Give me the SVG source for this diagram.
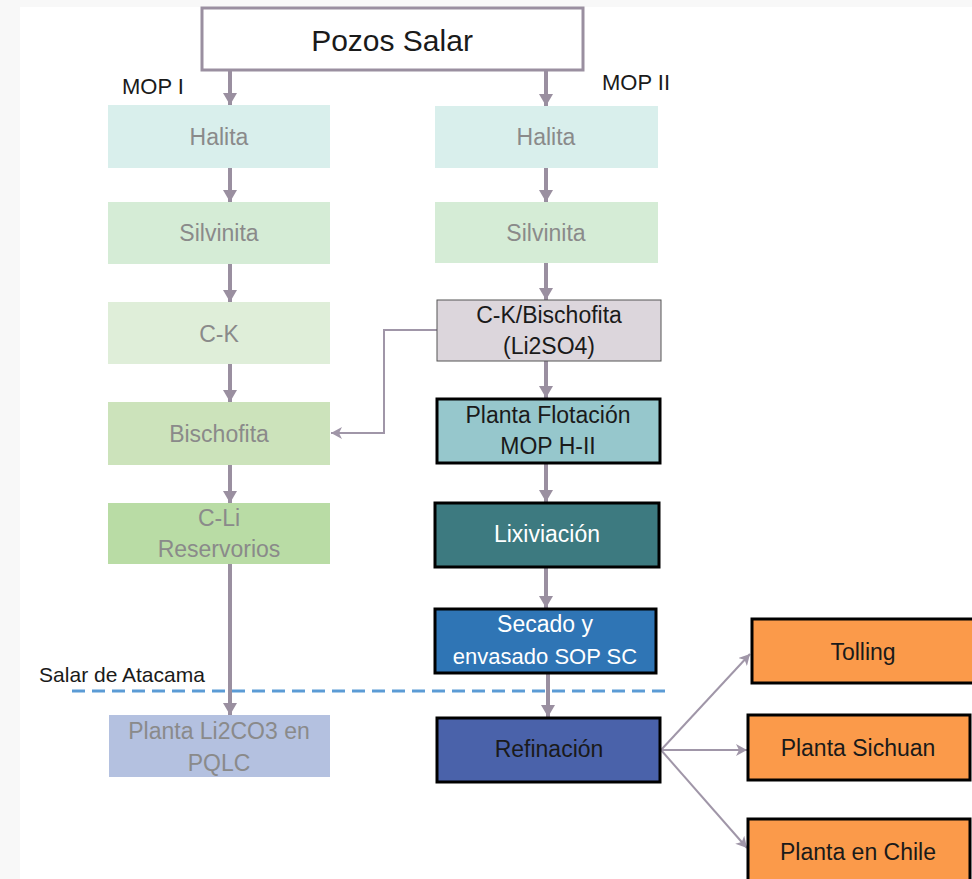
<svg xmlns="http://www.w3.org/2000/svg" width="972" height="879" viewBox="0 0 972 879">
<defs>
<marker id="ah" markerUnits="userSpaceOnUse" markerWidth="16" markerHeight="14" refX="12" refY="7" orient="auto">
<path d="M0,0 L12,7 L0,14 Z" fill="#9a8fa0"/>
</marker>
<marker id="ahs" markerUnits="userSpaceOnUse" markerWidth="14" markerHeight="12" refX="11" refY="6" orient="auto">
<path d="M0,0 L11,6 L0,12 L3,6 Z" fill="#a096a8"/>
</marker>
<style>
text{font-family:"Liberation Sans",Arial,sans-serif;text-anchor:middle;dominant-baseline:central;font-size:23px}
.g{fill:#8a8a8a}
.k{fill:#1a1a1a}
.w{fill:#ffffff}
.dk{stroke:#000;stroke-width:3}
.c{stroke:#9a8fa0;stroke-width:4;fill:none;marker-end:url(#ah)}
.t{stroke:#a096a8;stroke-width:2;fill:none;marker-end:url(#ahs)}
</style>
</defs>
<rect x="0" y="0" width="972" height="879" fill="#f8f8f8"/>
<rect x="20" y="7" width="952" height="872" fill="#ffffff"/>

<g id="connectors">
<line class="c" x1="230" y1="70" x2="230" y2="105"/>
<line class="c" x1="546" y1="70" x2="546" y2="106"/>
<line class="c" x1="230" y1="168" x2="230" y2="202"/>
<line class="c" x1="230" y1="264" x2="230" y2="302"/>
<line class="c" x1="230" y1="364" x2="230" y2="402"/>
<line class="c" x1="230" y1="465" x2="230" y2="503"/>
<line class="c" x1="230" y1="564" x2="230" y2="715"/>
<line class="c" x1="546" y1="168" x2="546" y2="202"/>
<line class="c" x1="546" y1="263" x2="546" y2="300"/>
<line class="c" x1="546" y1="361" x2="546" y2="398"/>
<line class="c" x1="546" y1="463" x2="546" y2="502"/>
<line class="c" x1="546" y1="567" x2="546" y2="608"/>
<line class="c" x1="548" y1="673" x2="548" y2="717"/>
<polyline class="t" points="437,330 384,330 384,433 331,433"/>
<line class="t" x1="661" y1="750" x2="750" y2="654"/>
<line class="t" x1="661" y1="750" x2="747" y2="750"/>
<line class="t" x1="661" y1="750" x2="747" y2="848"/>
</g>

<g id="boundary">
<line x1="72" y1="691" x2="670" y2="691" stroke="#5b9bd5" stroke-width="3" stroke-dasharray="13,7"/>
<text x="122" y="674" class="k" style="font-size:21px">Salar de Atacama</text>
</g>

<g id="pozos-salar">
<rect x="202" y="8" width="381" height="62" fill="#ffffff" stroke="#9a8fa0" stroke-width="3"/>
<text x="392" y="40" class="k" style="font-size:30px">Pozos Salar</text>
</g>
<g id="label-mop1"><text x="153" y="86" class="k" style="font-size:22px">MOP I</text></g>
<g id="label-mop2"><text x="636" y="82" class="k" style="font-size:22px">MOP II</text></g>

<g id="halita-1">
<rect x="108" y="105" width="222" height="63" fill="#d9efec"/>
<text x="219" y="137" class="g">Halita</text>
</g>
<g id="silvinita-1">
<rect x="108" y="202" width="222" height="62" fill="#d5ecd6"/>
<text x="219" y="233" class="g">Silvinita</text>
</g>
<g id="ck-1">
<rect x="108" y="302" width="222" height="62" fill="#dfeed9"/>
<text x="219" y="334" class="g">C-K</text>
</g>
<g id="bischofita-1">
<rect x="108" y="402" width="222" height="63" fill="#cce3bb"/>
<text x="219" y="434" class="g">Bischofita</text>
</g>
<g id="cli-1">
<rect x="108" y="503" width="222" height="61" fill="#b9dca5"/>
<text x="219" y="518" class="g">C-Li</text>
<text x="219" y="549" class="g">Reservorios</text>
</g>
<g id="planta-li2co3">
<rect x="109" y="715" width="221" height="62" fill="#b4c1e0"/>
<text x="219" y="731" class="g">Planta Li2CO3 en</text>
<text x="219" y="763" class="g">PQLC</text>
</g>

<g id="halita-2">
<rect x="435" y="106" width="223" height="62" fill="#d9efec"/>
<text x="546" y="137" class="g">Halita</text>
</g>
<g id="silvinita-2">
<rect x="435" y="202" width="223" height="61" fill="#d5ecd6"/>
<text x="546" y="233" class="g">Silvinita</text>
</g>
<g id="ck-bischofita">
<rect x="437" y="300" width="224" height="61" fill="#dcd6dc" stroke="#555" stroke-width="1"/>
<text x="549" y="315" class="k">C-K/Bischofita</text>
<text x="549" y="346" class="k">(Li2SO4)</text>
</g>
<g id="planta-flotacion">
<rect x="437" y="399" width="223" height="64" fill="#96c7cc" class="dk"/>
<text x="548" y="415" class="k">Planta Flotación</text>
<text x="548" y="446" class="k">MOP H-II</text>
</g>
<g id="lixiviacion">
<rect x="435" y="503" width="224" height="64" fill="#3d7a80" class="dk"/>
<text x="547" y="534" class="w">Lixiviación</text>
</g>
<g id="secado">
<rect x="435" y="609" width="221" height="64" fill="#2f75b5" class="dk"/>
<text x="545" y="624" class="w">Secado y</text>
<text x="545" y="656" class="w" style="font-size:22px">envasado SOP SC</text>
</g>
<g id="refinacion">
<rect x="437" y="718" width="223" height="64" fill="#4a62aa" class="dk"/>
<text x="549" y="749" class="k">Refinación</text>
</g>

<g id="tolling">
<rect x="752" y="619" width="222" height="64" fill="#fb9a4a" class="dk"/>
<text x="863" y="652" class="k">Tolling</text>
</g>
<g id="planta-sichuan">
<rect x="748" y="715" width="222" height="65" fill="#fb9a4a" class="dk"/>
<text x="858" y="748" class="k">Planta Sichuan</text>
</g>
<g id="planta-chile">
<rect x="748" y="819" width="222" height="66" fill="#fb9a4a" class="dk"/>
<text x="858" y="852" class="k">Planta en Chile</text>
</g>
</svg>
